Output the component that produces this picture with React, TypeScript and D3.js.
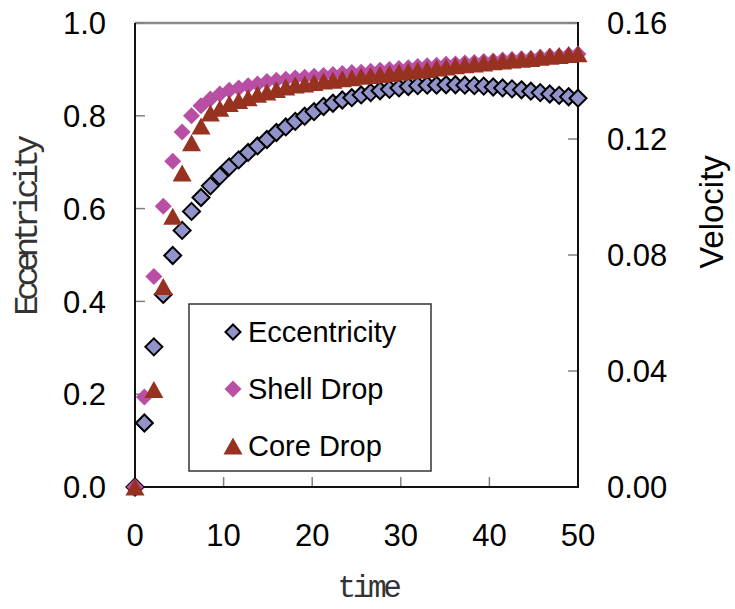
import React, { useEffect, useRef } from 'react';
import * as d3 from 'd3';

// sample times (48 steps from 0 to 50)
const times = [
  0, 1.06, 2.13, 3.19, 4.26, 5.32, 6.38, 7.45, 8.51, 9.57, 10.64, 11.7,
  12.77, 13.83, 14.89, 15.96, 17.02, 18.09, 19.15, 20.21, 21.28, 22.34, 23.4, 24.47,
  25.53, 26.6, 27.66, 28.72, 29.79, 30.85, 31.91, 32.98, 34.04, 35.11, 36.17, 37.23,
  38.3, 39.36, 40.43, 41.49, 42.55, 43.62, 44.68, 45.74, 46.81, 47.87, 48.94, 50,
];

// left axis
const eccentricity = [
  0, 0.138, 0.302, 0.415, 0.499, 0.553, 0.594, 0.624, 0.649, 0.67, 0.69, 0.705,
  0.721, 0.735, 0.749, 0.764, 0.776, 0.788, 0.799, 0.809, 0.82, 0.827, 0.834, 0.839,
  0.845, 0.85, 0.854, 0.857, 0.86, 0.863, 0.865, 0.866, 0.866, 0.867, 0.867, 0.866,
  0.865, 0.864, 0.862, 0.86, 0.858, 0.856, 0.853, 0.85, 0.847, 0.844, 0.841, 0.838,
];

// right axis (velocity)
const shellDrop = [
  0, 0.031, 0.0726, 0.0968, 0.1123, 0.1224, 0.128, 0.1315, 0.1338, 0.1355, 0.1368, 0.1376,
  0.1384, 0.139, 0.1398, 0.1403, 0.1406, 0.141, 0.1413, 0.1416, 0.1419, 0.1422, 0.1426, 0.1429,
  0.143, 0.1434, 0.1437, 0.144, 0.1443, 0.1446, 0.145, 0.1453, 0.1454, 0.1458, 0.1459, 0.1462,
  0.1464, 0.1467, 0.1469, 0.1472, 0.1474, 0.1477, 0.1478, 0.1482, 0.1485, 0.1486, 0.149, 0.1493,
];

const coreDrop = [
  0, null, 0.0336, 0.0691, 0.0934, 0.1083, 0.1187, 0.1245, 0.129, 0.1306, 0.1322, 0.1333,
  0.1342, 0.1354, 0.1362, 0.1371, 0.1379, 0.1386, 0.139, 0.1395, 0.14, 0.1403, 0.1408, 0.1411,
  0.1416, 0.1419, 0.1422, 0.1426, 0.143, 0.1434, 0.1437, 0.144, 0.1445, 0.1448, 0.1453, 0.1456,
  0.1459, 0.1462, 0.1466, 0.1469, 0.1472, 0.1475, 0.1478, 0.1482, 0.1485, 0.1488, 0.1491, 0.1494,
];

const xTicks = [0, 10, 20, 30, 40, 50];
const leftTicks = [0, 0.2, 0.4, 0.6, 0.8, 1.0];
const rightTicks = [0, 0.04, 0.08, 0.12, 0.16];
const legendLabels = ['Eccentricity', 'Shell Drop', 'Core Drop'];

const ECC_FILL = '#9393cb';
const SHELL_FILL = '#b94fa4';
const CORE_FILL = '#983220';

const diamond = (r) => `M0,${-r}L${r},0L0,${r}L${-r},0Z`;
const triangle = (w, h) => `M0,${-h / 2}L${w / 2},${h / 2}L${-w / 2},${h / 2}Z`;

const App = () => {
  const ref = useRef(null);

  useEffect(() => {
    if (!ref.current) return;
    const svg = d3.select(ref.current);
    svg.selectAll('*').remove();

    const left = 135, right = 578, top = 23, bottom = 487;
    const x = d3.scaleLinear().domain([0, 50]).range([left, right]);
    const yL = d3.scaleLinear().domain([0, 1]).range([bottom, top]);
    const yR = d3.scaleLinear().domain([0, 0.16]).range([bottom, top]);

    const font = 'Liberation Sans, Arial, sans-serif';
    const monoFont = 'Liberation Mono, Courier New, monospace';

    // frame
    svg.append('line').attr('x1', left).attr('x2', right).attr('y1', top).attr('y2', top)
      .attr('stroke', '#8a8a8a').attr('stroke-width', 2.5);

    // ticks (inside)
    svg.selectAll('.lt').data(leftTicks).enter().append('line')
      .attr('x1', left).attr('x2', left + 10)
      .attr('y1', d => yL(d)).attr('y2', d => yL(d))
      .attr('stroke', '#808080').attr('stroke-width', 1.5);
    svg.selectAll('.rt').data(rightTicks).enter().append('line')
      .attr('x1', right - 10).attr('x2', right)
      .attr('y1', d => yR(d)).attr('y2', d => yR(d))
      .attr('stroke', '#808080').attr('stroke-width', 1.5);
    svg.selectAll('.xt').data(xTicks).enter().append('line')
      .attr('x1', d => x(d)).attr('x2', d => x(d))
      .attr('y1', bottom).attr('y2', bottom - 10)
      .attr('stroke', '#808080').attr('stroke-width', 1.5);

    svg.append('line').attr('x1', left).attr('x2', left).attr('y1', top).attr('y2', bottom + 1)
      .attr('stroke', '#111').attr('stroke-width', 2);
    svg.append('line').attr('x1', right).attr('x2', right).attr('y1', top - 1).attr('y2', bottom + 1)
      .attr('stroke', '#111').attr('stroke-width', 2);
    svg.append('line').attr('x1', left).attr('x2', right).attr('y1', bottom).attr('y2', bottom)
      .attr('stroke', '#111').attr('stroke-width', 2);

    // tick labels
    svg.selectAll('.ll').data(leftTicks).enter().append('text')
      .attr('x', 106).attr('y', d => yL(d)).attr('dy', '0.36em')
      .attr('text-anchor', 'end').attr('font-family', font).attr('font-size', 31)
      .text(d => d.toFixed(1));
    svg.selectAll('.rl').data(rightTicks).enter().append('text')
      .attr('x', 607).attr('y', d => yR(d)).attr('dy', '0.36em')
      .attr('font-family', font).attr('font-size', 31)
      .text(d => d.toFixed(2));
    svg.selectAll('.xl').data(xTicks).enter().append('text')
      .attr('x', d => x(d)).attr('y', 546)
      .attr('text-anchor', 'middle').attr('font-family', font).attr('font-size', 31)
      .text(d => d);

    // axis titles
    svg.append('text')
      .attr('transform', 'translate(37,228) rotate(-90)')
      .attr('text-anchor', 'middle').attr('font-family', monoFont)
      .attr('font-size', 34).attr('letter-spacing', -5.8).attr('fill', '#333')
      .text('Eccentricity');
    svg.append('text')
      .attr('x', 368).attr('y', 597)
      .attr('text-anchor', 'middle').attr('font-family', monoFont)
      .attr('font-size', 31).attr('letter-spacing', -3.3).attr('fill', '#333')
      .text('time');
    svg.append('text')
      .attr('transform', 'translate(723,212) rotate(-90)')
      .attr('text-anchor', 'middle').attr('font-family', font).attr('font-size', 33)
      .text('Velocity');

    // series
    const eccData = times.map((t, i) => ({ t, v: eccentricity[i] }));
    const shellData = times.map((t, i) => ({ t, v: shellDrop[i] }));
    const coreData = times.map((t, i) => ({ t, v: coreDrop[i] })).filter(d => d.v !== null);

    svg.selectAll('.ecc').data(eccData).enter().append('path')
      .attr('d', diamond(8.5))
      .attr('transform', d => `translate(${x(d.t)},${yL(d.v)})`)
      .attr('fill', ECC_FILL).attr('stroke', '#000').attr('stroke-width', 2);

    svg.selectAll('.shell').data(shellData).enter().append('path')
      .attr('d', diamond(8.5))
      .attr('transform', d => `translate(${x(d.t)},${yR(d.v)})`)
      .attr('fill', SHELL_FILL);

    svg.selectAll('.core').data(coreData).enter().append('path')
      .attr('d', triangle(19, 17))
      .attr('transform', d => `translate(${x(d.t)},${yR(d.v)})`)
      .attr('fill', CORE_FILL);

    // legend
    const lg = svg.append('g');
    lg.append('rect').attr('x', 189).attr('y', 304).attr('width', 242).attr('height', 167)
      .attr('fill', '#fff').attr('stroke', '#333').attr('stroke-width', 1.5);
    const rows = [332, 389, 446];
    lg.append('path').attr('d', diamond(7.5)).attr('transform', `translate(233,${rows[0]})`)
      .attr('fill', ECC_FILL).attr('stroke', '#000').attr('stroke-width', 2);
    lg.append('path').attr('d', diamond(8.5)).attr('transform', `translate(233,${rows[1]})`)
      .attr('fill', SHELL_FILL);
    lg.append('path').attr('d', triangle(19, 17)).attr('transform', `translate(233,${rows[2]})`)
      .attr('fill', CORE_FILL);
    lg.selectAll('.lt2').data(legendLabels).enter().append('text')
      .attr('x', 248).attr('y', (d, i) => rows[i] + 10)
      .attr('font-family', font).attr('font-size', 29)
      .text(d => d);
  }, []);

  return (
    <svg
      ref={ref}
      width={735}
      height={609}
      style={{ position: 'absolute', left: 0, top: 0, background: '#fff' }}
    />
  );
};

export default App;
